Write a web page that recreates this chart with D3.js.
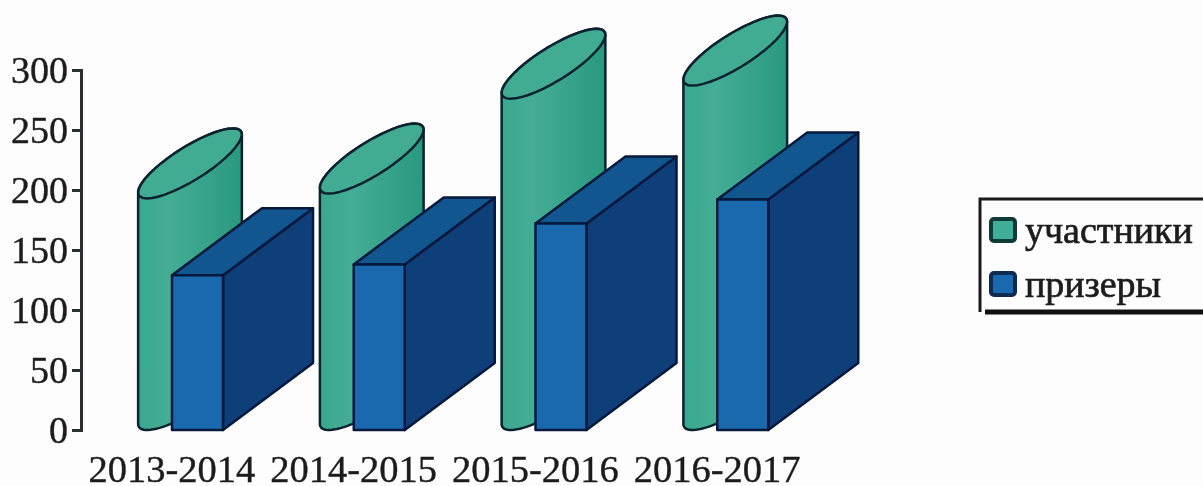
<!DOCTYPE html>
<html>
<head>
<meta charset="utf-8">
<script src="https://cdn.jsdelivr.net/npm/d3@7"></script>
<style>
  html, body { margin: 0; padding: 0; background: #fdfdfd; overflow: hidden; }
  svg { display: block; filter: blur(0.6px); }
  text { font-family: "Liberation Serif", serif; fill: #1c1c1c; }
</style>
</head>
<body>
<script>
const years = ['2013-2014', '2014-2015', '2015-2016', '2016-2017'];
const participants = [193, 197, 276, 287];
const winners = [129, 138, 172, 192];
const yTicks = [0, 50, 100, 150, 200, 250, 300];
const seriesNames = ['участники', 'призеры'];

const width = 1203;
const height = 486;

const svg = d3.select('body').append('svg').attr('width', width).attr('height', height);

const x = d3.scaleBand().domain(years).range([81, 808]);
const y = d3.scaleLinear().domain([0, 300]).range([430, 70]);

const defs = svg.append('defs');
const grad = defs.append('linearGradient').attr('id', 'cyl');
grad.append('stop').attr('offset', '0%').attr('stop-color', '#3aa88e');
grad.append('stop').attr('offset', '30%').attr('stop-color', '#45ad95');
grad.append('stop').attr('offset', '100%').attr('stop-color', '#28997f');

// projected circle of the cylinder
const ex = 29, dx = 43, dy = 35;
const t0 = Math.atan2(dx, ex);
const pt = (cx, cy, t) => [cx + ex * Math.cos(t) + dx * Math.sin(t), cy - dy * Math.sin(t)];
const arc = (cx, cy, from, to) => d3.range(0, 41).map((i) => pt(cx, cy, from + ((to - from) * i) / 40));
const line = d3.line();

const cylOffset = 109;
const boxOffset = 91;
const boxW = 51;
const depth = [90, -67];
const stroke = '#0b2230';
const boxStroke = '#06183c';

const groups = svg.selectAll('g.cat').data(years).join('g').attr('class', 'cat');

groups.each(function (d, i) {
    const g = d3.select(this);
    const cx = x(d) + cylOffset;
    const topY = y(participants[i]) - dy;
    const baseY = y(0) - dy;
    const front = arc(cx, baseY, t0 + Math.PI, t0 + 2 * Math.PI);
    const back = arc(cx, topY, t0, t0 + Math.PI);
    g.append('path')
        .attr('d', line(front.concat(back)) + 'Z')
        .attr('fill', 'url(#cyl)')
        .attr('stroke', stroke)
        .attr('stroke-width', 2.5);
    g.append('path')
        .attr('d', line(arc(cx, topY, 0, 2 * Math.PI)) + 'Z')
        .attr('fill', '#42ac93')
        .attr('stroke', stroke)
        .attr('stroke-width', 2.5);

    const bx = x(d) + boxOffset;
    const by = y(winners[i]);
    const b0 = y(0);
    const [ddx, ddy] = depth;
    const box = (pts, fill) =>
        g.append('path')
            .attr('d', line(pts) + 'Z')
            .attr('fill', fill)
            .attr('stroke', boxStroke)
            .attr('stroke-width', 2.5)
            .attr('stroke-linejoin', 'round');
    box([[bx + boxW, by], [bx + boxW + ddx, by + ddy], [bx + boxW + ddx, b0 + ddy], [bx + boxW, b0]], '#0f3f78');
    box([[bx, by], [bx + ddx, by + ddy], [bx + boxW + ddx, by + ddy], [bx + boxW, by]], '#12568f');
    box([[bx, by], [bx + boxW, by], [bx + boxW, b0], [bx, b0]], '#1a69ae');
});

// axes
const yAxis = svg.append('g')
    .attr('transform', 'translate(81,0)')
    .call(d3.axisLeft(y).tickValues(yTicks).tickSize(9).tickPadding(4));
yAxis.selectAll('text').style('font-size', '38px').style('font-family', '"Liberation Serif", serif')
    .attr('fill', '#1c1c1c').attr('stroke', '#1c1c1c').attr('stroke-width', 0.4);
yAxis.selectAll('path,line').attr('stroke', '#2a2f33').attr('stroke-width', 3);

const xAxis = svg.append('g')
    .attr('transform', 'translate(0,455)')
    .call(d3.axisBottom(x).tickSize(0).tickPadding(0));
xAxis.select('.domain').remove();
xAxis.selectAll('text').style('font-size', '38.5px').style('font-family', '"Liberation Serif", serif')
    .attr('fill', '#1c1c1c').attr('stroke', '#1c1c1c').attr('stroke-width', 0.4);

// legend
const legend = svg.append('g');
legend.append('path').attr('d', 'M980,312V199H1203').attr('fill', 'none').attr('stroke', '#1a1a1a').attr('stroke-width', 3);
legend.append('path').attr('d', 'M985,312H1203').attr('fill', 'none').attr('stroke', '#111').attr('stroke-width', 5);
const legendFills = ['#3fae98', '#1a69ae'];
const legendStroke = ['#0f3a38', '#0d2a50'];
const rows = legend.selectAll('g.row').data(seriesNames).join('g').attr('class', 'row')
    .attr('transform', (d, i) => 'translate(0,' + (243 + 54 * i) + ')');
rows.append('rect').attr('x', 991).attr('y', -24).attr('width', 24).attr('height', 22).attr('rx', 3)
    .attr('fill', (d, i) => legendFills[i])
    .attr('stroke', (d, i) => legendStroke[i])
    .attr('stroke-width', 4);
rows.append('text').attr('x', 1025).attr('y', 0)
    .style('font-size', '38px').attr('stroke', '#1c1c1c').attr('stroke-width', 0.7).text((d) => d);
</script>
</body>
</html>
